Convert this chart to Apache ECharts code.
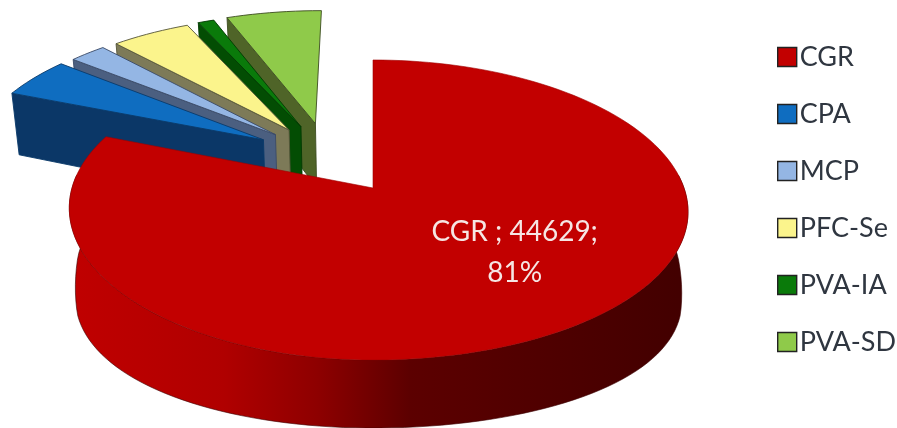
<!DOCTYPE html>
<html>
<head>
<meta charset="utf-8">
<style>html,body{margin:0;padding:0;background:#fff}#chart{width:897px;height:428px}</style>
<script src="https://cdn.jsdelivr.net/npm/echarts@6/dist/echarts.min.js"></script>
</head>
<body>
<div id="chart"></div>
<script>
// Slice values, clockwise from twelve o'clock
const categories = ['CGR', 'CPA', 'MCP', 'PFC-Se', 'PVA-IA', 'PVA-SD'];
const sliceValues = [44629, 2570, 1290, 2750, 560, 3300];
const topColors = ['#c20000', '#0f6dc0', '#94b6e4', '#fbf48c', '#0a7a0a', '#8fca4a'];
const wallColors = ['#7a0000', '#0b3767', '#4b5f80', '#7d7a58', '#034d03', '#4f6428'];
const edgeColors = ['#a00000', '#0a3a6a', '#3a4a66', '#55553a', '#023a02', '#3c4c20'];

// Perspective view of the disc
const view = { vx: 373, vy: 188, rx: 306, ry: 146.8, k: 0.1467, drift: 5, wall: 68, bulge: 22, taper: 0.98 };
const pullDistance = 0.507;
const pullNudge = -0.009;
const labelSpot = [0.426, -0.41];

const total = sliceValues.reduce((a, b) => a + b, 0);
const rad = d => d * Math.PI / 180;

function project(X, Y) {
  const s = 1 / (1 + view.k * Y);
  return [view.vx + view.rx * X * s + view.drift * Math.abs(X) * (1 - Y), view.vy - view.ry * Y * s];
}
function drop(X, Y) {
  const p = project(X, Y);
  const s = 1 / (1 + view.k * Y);
  // The lower rim sags furthest towards the sides of the near half
  const sag = Y < 0 ? view.bulge * X * X * Math.min(1, -Y * 4) : 0;
  return [view.vx + (p[0] - view.vx) * view.taper, p[1] + view.wall * Math.min(1, s) + sag];
}

// Angular spans derived from the values
const spans = [];
let running = 0;
sliceValues.forEach(v => {
  const a = running / total * 360;
  running += v;
  spans.push([a, running / total * 360]);
});
const groupMid = (spans[1][0] + 360) / 2;

function offsetOf(i) {
  if (i === 0) return [0, 0];
  const mid = (spans[i][0] + spans[i][1]) / 2;
  const dir = rad((mid + groupMid) / 2);
  return [Math.sin(dir) * pullDistance + pullNudge, Math.cos(dir) * pullDistance];
}

function arcAngles(a, b) {
  const out = [];
  const n = Math.max(2, Math.ceil((b - a) / 2));
  for (let j = 0; j <= n; j++) out.push(a + (b - a) * j / n);
  return out;
}

function renderSlice(i, api) {
  const span = spans[i];
  const off = offsetOf(i);
  const rim = t => [off[0] + Math.sin(rad(t)), off[1] + Math.cos(rad(t))];
  const children = [];
  const lineStyle = { stroke: edgeColors[i], lineWidth: i === 0 ? 0.6 : 0.9 };

  if (i === 0) {
    // Curved outer wall, only the part facing the viewer
    const sweep = arcAngles(85, 275);
    const pts = sweep.map(t => project.apply(null, rim(t)))
      .concat(sweep.slice().reverse().map(t => drop.apply(null, rim(t))));
    children.push({
      type: 'polygon',
      shape: { points: pts },
      style: {
        fill: new echarts.graphic.LinearGradient(0, 0, 1, 0, [
          { offset: 0, color: '#c00000' },
          { offset: 0.25, color: '#b00000' },
          { offset: 0.4, color: '#8e0000' },
          { offset: 0.55, color: '#5c0000' },
          { offset: 1, color: '#420000' }
        ]),
        stroke: '#3a0000', lineWidth: 0.6
      }
    });
  } else {
    // Radial wall on the counter-clockwise side
    const outer = rim(span[0]);
    children.push({
      type: 'polygon',
      shape: { points: [project.apply(null, outer), project.apply(null, off),
        drop.apply(null, off), drop.apply(null, outer)] },
      style: Object.assign({ fill: wallColors[i] }, lineStyle)
    });
  }

  // Top face
  const face = [project.apply(null, off)].concat(
    arcAngles(span[0], span[1]).map(t => project.apply(null, rim(t))));
  children.push({
    type: 'polygon',
    shape: { points: face },
    style: Object.assign({ fill: topColors[i] }, lineStyle)
  });

  if (i === 0) {
    const at = project(labelSpot[0], labelSpot[1]);
    children.push({
      type: 'text',
      x: at[0], y: at[1],
      style: {
        text: categories[i] + ' ; ' + api.value(0) + ';\n' + Math.round(api.value(0) / total * 100) + '%',
        fill: '#f6e6e4',
        font: '28px Lato',
        lineHeight: 41,
        align: 'center',
        verticalAlign: 'middle'
      }
    });
  }
  return { type: 'group', children };
}

// Painted back to front: the rightmost pulled slice first, the large slice last
const series = categories.map((name, i) => ({
  type: 'custom',
  name,
  coordinateSystem: 'none',
  z: i === 0 ? 10 : 8 - i,
  silent: true,
  itemStyle: { color: topColors[i] },
  data: [sliceValues[i]],
  renderItem: (params, api) => renderSlice(i, api)
}));

const chart = echarts.init(document.getElementById('chart'), null, { renderer: 'canvas' });
chart.setOption({
  animation: false,
  backgroundColor: '#ffffff',
  legend: {
    data: categories,
    orient: 'vertical',
    left: 772,
    top: 37,
    icon: 'rect',
    itemWidth: 19,
    itemHeight: 19,
    itemGap: 27,
    selectedMode: false,
    itemStyle: { borderColor: '#222', borderWidth: 1.4 },
    textStyle: { fontFamily: 'Lato', fontSize: 27, color: '#2f3640', padding: [0, 0, 0, -2], lineHeight: 30 }
  },
  series
});
</script>
</body>
</html>
